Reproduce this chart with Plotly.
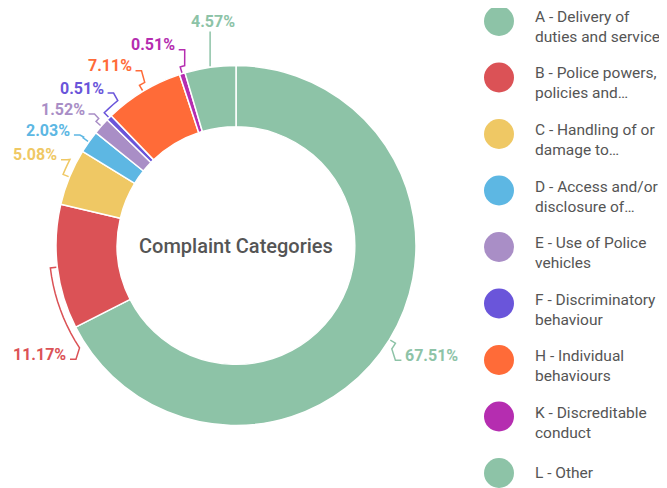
import math
import plotly.graph_objects as go

# ---------------- data ----------------
categories = ["A", "B", "C", "D", "E", "F", "H", "K", "L"]
legend_labels = [
    "A - Delivery of<br>duties and service",
    "B - Police powers,<br>policies and…",
    "C - Handling of or<br>damage to…",
    "D - Access and/or<br>disclosure of…",
    "E - Use of Police<br>vehicles",
    "F - Discriminatory<br>behaviour",
    "H - Individual<br>behaviours",
    "K - Discreditable<br>conduct",
    "L - Other",
]
values = [67.51, 11.17, 5.08, 2.03, 1.52, 0.51, 7.11, 0.51, 4.57]
colors = ["#8DC3A7", "#DB5256", "#EFC864", "#5DB7E3", "#A98EC6",
          "#6A55DA", "#FF6B38", "#B52DB0", "#8DC3A7"]
center_title = "Complaint Categories"

# ---------------- geometry (window pixels) ----------------
OFF = 8                       # default page body margin
W, H = 667 - OFF, 488 - OFF
CX, CY, R = 236, 245.5, 180
HOLE = 0.66
FONT = "Roboto, Noto Sans, sans-serif"
LBL_SIZE = 16


def px(x):
    return (x - OFF) / W


def py(y):
    return 1 - (y - OFF) / H


def pt(r, th):
    a = math.radians(th)
    return CX + r * math.sin(a), CY - r * math.cos(a)


fig = go.Figure()
fig.add_trace(go.Pie(
    labels=categories, values=values, sort=False, direction="clockwise",
    rotation=0, hole=HOLE, textinfo="none", showlegend=False,
    marker=dict(colors=colors, line=dict(color="white", width=1.5)),
    hovertemplate="%{label}: %{value}%<extra></extra>",
    domain=dict(x=[px(CX - R), px(CX + R)], y=[py(CY + R), py(CY - R)]),
))

# ---------------- outside labels with leader lines ----------------
total = sum(values)
cum = 0
items = []
for i, v in enumerate(values):
    th = (cum + v / 2) / total * 360
    cum += v
    txt = f"{v:.2f}%"
    w = LBL_SIZE * (0.5615 * sum(c.isdigit() for c in txt) + 0.263 + 0.74)
    items.append(dict(i=i, th=th, txt=txt, w=w))

RL = R + 30          # radius used for label heights
RLX = R + 14         # radius used for label horizontal position
MARGIN = 14
GAP = 21
shapes = []
annotations = []
sides = {"left": [], "right": []}
for it in items:
    th = it["th"]
    s, c = math.sin(math.radians(th)), math.cos(math.radians(th))
    if abs(s) < 0.2 and c > 0:
        it["side"] = "top"
        continue
    side = "right" if s > 0 else "left"
    it["side"] = side
    x = CX + RLX * s
    if side == "left" and x - 4 - it["w"] < MARGIN:
        sreq = (CX - MARGIN - it["w"] - 4) / RLX
        d = math.degrees(math.asin(min(1, sreq)))
        th = 180 + d if th < 270 else 360 - d
    elif side == "right" and x + 4 + it["w"] > 667 - MARGIN:
        sreq = (667 - MARGIN - it["w"] - 4 - CX) / RLX
        d = math.degrees(math.asin(min(1, sreq)))
        th = 180 - d if th > 90 else d
    it["y"] = pt(RL, th)[1]
    sides[side].append(it)

# resolve vertical overlaps on each side
for side, lst in sides.items():
    lst.sort(key=lambda d: d["y"])
    for d in lst:
        d["y0"] = d["y"]
    groups = [[d] for d in lst]
    changed = True
    while changed:
        changed = False
        for g in groups:
            n = len(g)
            mean = sum(d["y0"] for d in g) / n
            for k, d in enumerate(g):
                d["y"] = mean + (k - (n - 1) / 2) * GAP
        for a in range(len(groups) - 1):
            if groups[a][-1]["y"] + GAP > groups[a + 1][0]["y"]:
                groups[a] = groups[a] + groups[a + 1]
                del groups[a + 1]
                changed = True
                break


def path_str(points):
    return "M " + " L ".join(f"{px(x):.5f},{py(y):.5f}" for x, y in points)


for it in items:
    col = colors[it["i"]]
    th = it["th"]
    lfont = dict(family=FONT, size=LBL_SIZE, color=col, weight="bold")
    if it["side"] == "top":
        ax, ay = pt(R + 1, th)
        ly = CY - R - 44
        pts = [(ax, ay), (ax, ly + 10)]
        annotations.append(dict(x=px(ax + 3), y=py(ly), xref="paper", yref="paper",
                                text=it["txt"], showarrow=False, xanchor="center",
                                yanchor="middle", font=lfont))
    else:
        y = it["y"]
        dy = y - CY
        dx = math.sqrt(max(RL ** 2 - dy ** 2, 0)) * RLX / RL
        left = it["side"] == "left"
        x = CX - dx if left else CX + dx
        thl = math.degrees(math.atan2(x - CX, CY - y)) % 360
        pts = [pt(R + 1, th)]
        n = max(2, int(abs(thl - th) / 3) + 2)
        for k in range(n + 1):
            pts.append(pt(R + 7, th + (thl - th) * k / n))
        ly = y + 5
        pts.append((x + (6 if left else -6), ly))
        pts.append((x, ly))
        annotations.append(dict(x=px(x - 2 if left else x + 2), y=py(y), xref="paper",
                                yref="paper", text=it["txt"], showarrow=False,
                                xanchor="right" if left else "left", yanchor="middle",
                                font=lfont))
    shapes.append(dict(type="path", xref="paper", yref="paper", path=path_str(pts),
                       line=dict(color=col, width=1.5), layer="above"))

# ---------------- center title ----------------
annotations.append(dict(x=px(CX), y=py(CY), xref="paper", yref="paper", text=center_title,
                        showarrow=False, xanchor="center", yanchor="middle",
                        font=dict(family=FONT, size=20, color="#555555", weight=500)))

# ---------------- custom legend (large circles) ----------------
LEG_X, LEG_Y0, LEG_STEP, LEG_D, LEG_TX = 499, 21, 56.5, 30, 533
for k, (lab, col) in enumerate(zip(legend_labels, colors)):
    cy = LEG_Y0 + k * LEG_STEP
    shapes.append(dict(type="circle", xref="paper", yref="paper",
                       x0=px(LEG_X - LEG_D / 2), x1=px(LEG_X + LEG_D / 2),
                       y0=py(cy + LEG_D / 2), y1=py(cy - LEG_D / 2),
                       fillcolor=col, line=dict(width=0)))
    two = "<br>" in lab
    annotations.append(dict(x=px(LEG_TX), y=py(cy + (6 if two else 0)), xref="paper",
                            yref="paper", text=lab, showarrow=False, xanchor="left",
                            yanchor="middle", align="left",
                            font=dict(family=FONT, size=15.5, color="#555555")))

fig.update_layout(
    width=W, height=H, autosize=False,
    margin=dict(l=0, r=0, t=0, b=0),
    paper_bgcolor="white", plot_bgcolor="white",
    shapes=shapes, annotations=annotations,
    font=dict(family=FONT),
)

fig.write_html("out.html")
